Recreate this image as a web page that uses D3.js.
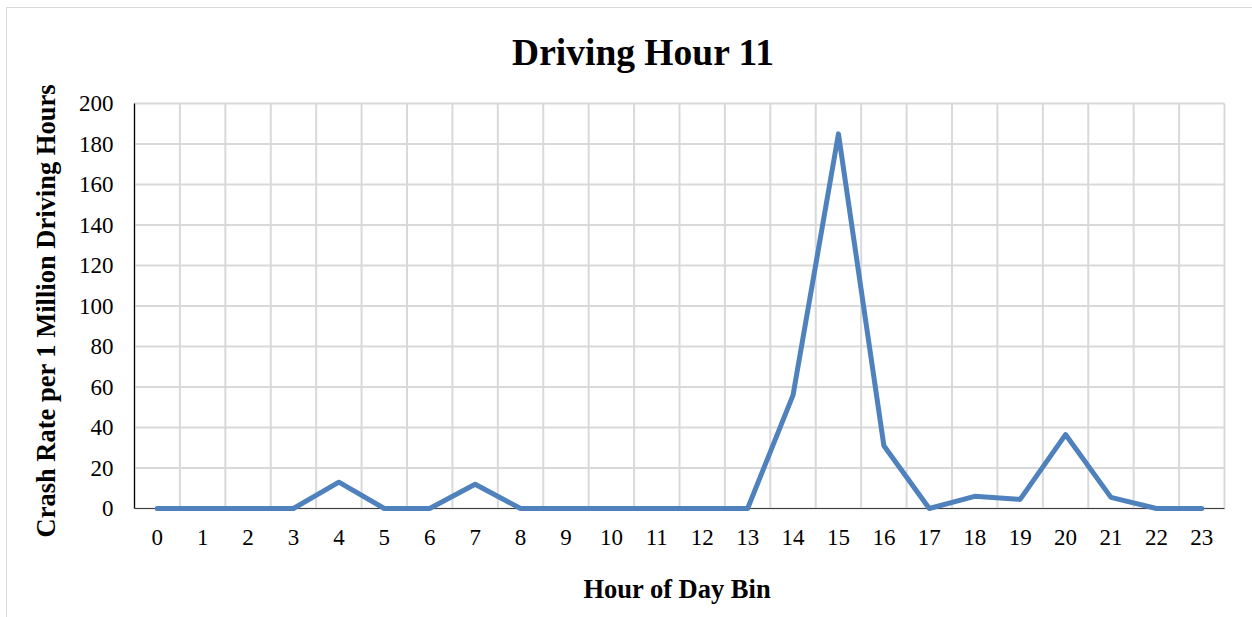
<!DOCTYPE html>
<html>
<head>
<meta charset="utf-8">
<script src="https://cdn.jsdelivr.net/npm/d3@7/dist/d3.min.js"></script>
<style>
  html, body { margin: 0; padding: 0; background: #fff; }
  svg { display: block; }
</style>
</head>
<body>
<svg id="chart" width="1252" height="617"></svg>
<script>
// Hour-of-day bins and crash rate per 1 million driving hours
const hours = ["0","1","2","3","4","5","6","7","8","9","10","11","12","13","14","15","16","17","18","19","20","21","22","23"];
const crashRate = [0, 0, 0, 0, 13, 0, 0, 12, 0, 0, 0, 0, 0, 0, 56, 185, 31, 0, 6, 4.5, 36.5, 5.5, 0, 0];
const yTicks = [0, 20, 40, 60, 80, 100, 120, 140, 160, 180, 200];

const svg = d3.select("#chart");
const W = 1252, H = 617;
const m = { left: 134.5, right: 1224.5, top: 103.5, bottom: 508.5 };
const serif = "'Liberation Serif', 'Times New Roman', serif";

// Outer chart frame
svg.append("rect")
  .attr("x", 6.5).attr("y", 7.5)
  .attr("width", W + 10).attr("height", H + 10)
  .attr("fill", "#fff").attr("stroke", "#d9d9d9").attr("stroke-width", 1);

const x = d3.scaleBand().domain(hours).range([m.left, m.right]).paddingInner(0).paddingOuter(0);
const y = d3.scaleLinear().domain([0, 200]).range([m.bottom, m.top]);

// Horizontal gridlines
svg.append("g")
  .selectAll("line").data(yTicks).join("line")
  .attr("x1", m.left).attr("x2", m.right)
  .attr("y1", d => y(d)).attr("y2", d => y(d))
  .attr("stroke", "#d9d9d9").attr("stroke-width", 2);

// Vertical gridlines at band boundaries
const bounds = hours.map(h => x(h)).concat([m.right]);
svg.append("g")
  .selectAll("line").data(bounds).join("line")
  .attr("x1", d => d).attr("x2", d => d)
  .attr("y1", m.top).attr("y2", m.bottom)
  .attr("stroke", "#d9d9d9").attr("stroke-width", 2);

// Axis lines
svg.append("line")
  .attr("x1", m.left).attr("x2", m.left)
  .attr("y1", m.top).attr("y2", m.bottom)
  .attr("stroke", "#000").attr("stroke-width", 1.2);
svg.append("line")
  .attr("x1", m.left).attr("x2", m.right)
  .attr("y1", m.bottom).attr("y2", m.bottom)
  .attr("stroke", "#404040").attr("stroke-width", 1.2);

// Y axis tick labels
const yAxis = d3.axisLeft(y).tickValues(yTicks).tickSize(0).tickPadding(21);
const gy = svg.append("g").attr("transform", `translate(${m.left},0)`).call(yAxis);
gy.select(".domain").remove();
gy.selectAll("text")
  .attr("font-family", serif).attr("font-size", 23).attr("fill", "#000");

// X axis tick labels
const xAxis = d3.axisBottom(x).tickSize(0).tickPadding(20);
const gx = svg.append("g").attr("transform", `translate(0,${m.bottom})`).call(xAxis);
gx.select(".domain").remove();
gx.selectAll("text")
  .attr("font-family", serif).attr("font-size", 23).attr("fill", "#000");

// Data line
const line = d3.line()
  .x((d, i) => x(hours[i]) + x.bandwidth() / 2)
  .y(d => y(d));
svg.append("path")
  .datum(crashRate)
  .attr("d", line)
  .attr("fill", "none")
  .attr("stroke", "#4f81bd")
  .attr("stroke-width", 5)
  .attr("stroke-linejoin", "round")
  .attr("stroke-linecap", "round");

// Title
svg.append("text")
  .attr("x", 643).attr("y", 65)
  .attr("text-anchor", "middle")
  .attr("font-family", serif).attr("font-weight", "bold").attr("font-size", 37.5)
  .text("Driving Hour 11");

// X axis title
svg.append("text")
  .attr("x", 677).attr("y", 598)
  .attr("text-anchor", "middle")
  .attr("font-family", serif).attr("font-weight", "bold").attr("font-size", 26.5)
  .text("Hour of Day Bin");

// Y axis title
svg.append("text")
  .attr("transform", "translate(55,311) rotate(-90)")
  .attr("text-anchor", "middle")
  .attr("font-family", serif).attr("font-weight", "bold").attr("font-size", 26.5)
  .text("Crash Rate per 1 Million Driving Hours");
</script>
</body>
</html>
